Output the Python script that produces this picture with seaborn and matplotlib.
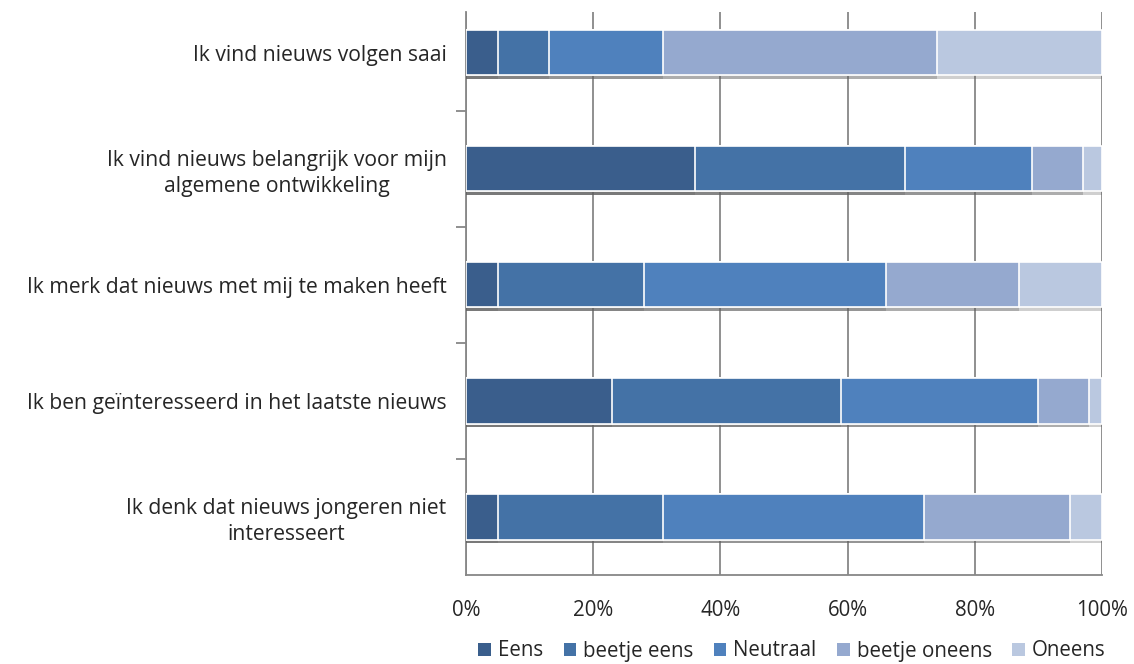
import matplotlib
matplotlib.use("Agg")
import matplotlib.pyplot as plt
import matplotlib.patheffects as pe
from matplotlib.patches import Patch
from matplotlib.ticker import PercentFormatter, MultipleLocator, FixedLocator
import seaborn as sns
import pandas as pd
import numpy as np

categories = [
    "Ik vind nieuws volgen saai",
    "Ik vind nieuws belangrijk voor mijn\nalgemene ontwikkeling",
    "Ik merk dat nieuws met mij te maken heeft",
    "Ik ben geïnteresseerd in het laatste nieuws",
    "Ik denk dat nieuws jongeren niet\ninteresseert",
]
series = ["Eens", "beetje eens", "Neutraal", "beetje oneens", "Oneens"]
eens = [5, 36, 5, 23, 5]
beetje_eens = [8, 33, 23, 36, 26]
neutraal = [18, 20, 38, 31, 41]
beetje_oneens = [43, 8, 21, 8, 23]
oneens = [26, 3, 13, 2, 5]
colors = ["#3A5E8C", "#4472A6", "#4F81BD", "#95A9CF", "#BAC8E0"]

sns.set_theme(style="white")
plt.rcParams["font.family"] = ["Open Sans", "DejaVu Sans"]

values = np.array([eens, beetje_eens, neutraal, beetje_oneens, oneens], dtype=float)
cum = np.cumsum(values, axis=0)

fig = plt.figure(figsize=(11.34, 6.64), dpi=100)
ax = fig.add_axes([466 / 1134, 1 - 575 / 664, (1102 - 466) / 1134, (575 - 12) / 664])

# draw from largest cumulative to smallest so each segment shows
for i in range(len(series) - 1, -1, -1):
    df = pd.DataFrame({"cat": categories, "val": cum[i]})
    sns.barplot(data=df, x="val", y="cat", orient="h", color=colors[i],
                width=0.39, edgecolor="white", linewidth=1.2, ax=ax,
                saturation=1, zorder=3)

for p in ax.patches:
    p.set_path_effects([pe.SimplePatchShadow(offset=(0, -2.5), shadow_rgbFace="#606060", alpha=0.3), pe.Normal()])

ax.set_xlim(0, 100)
ax.set_ylim(4.5, -0.35)
ax.xaxis.set_major_locator(MultipleLocator(20))
ax.xaxis.set_major_formatter(PercentFormatter(decimals=0))
ax.set_xlabel("")
ax.set_ylabel("")
ax.grid(axis="x", color="#878787", linewidth=1.3, zorder=0)
ax.set_axisbelow(True)
for s in ["top", "right"]:
    ax.spines[s].set_visible(False)
for s in ["left", "bottom"]:
    ax.spines[s].set_color("#878787")
    ax.spines[s].set_linewidth(1.3)

fs = 15.2
ax.tick_params(axis="x", direction="out", length=6, width=1.3, color="#878787",
               labelsize=14.8, labelcolor="#262626", pad=12)
ax.tick_params(axis="y", which="major", length=0, labelsize=fs, labelcolor="#262626", pad=14)
ax.yaxis.set_minor_locator(FixedLocator([0.5, 1.5, 2.5, 3.5]))
ax.tick_params(axis="y", which="minor", direction="out", length=7, width=1.3, color="#878787", left=True)
for lab in ax.get_yticklabels():
    lab.set_multialignment("center")
    lab.set_linespacing(1.3)

handles = [Patch(facecolor=c, edgecolor="none", label=s) for c, s in zip(colors, series)]
fig.legend(handles=handles, loc="center", bbox_to_anchor=(792 / 1134, 1 - 651 / 664),
           ncol=5, frameon=False, fontsize=14.8, handlelength=0.6, handleheight=0.6,
           handletextpad=0.35, columnspacing=1.0, labelcolor="#262626")

fig.savefig("out.png", dpi=100)
